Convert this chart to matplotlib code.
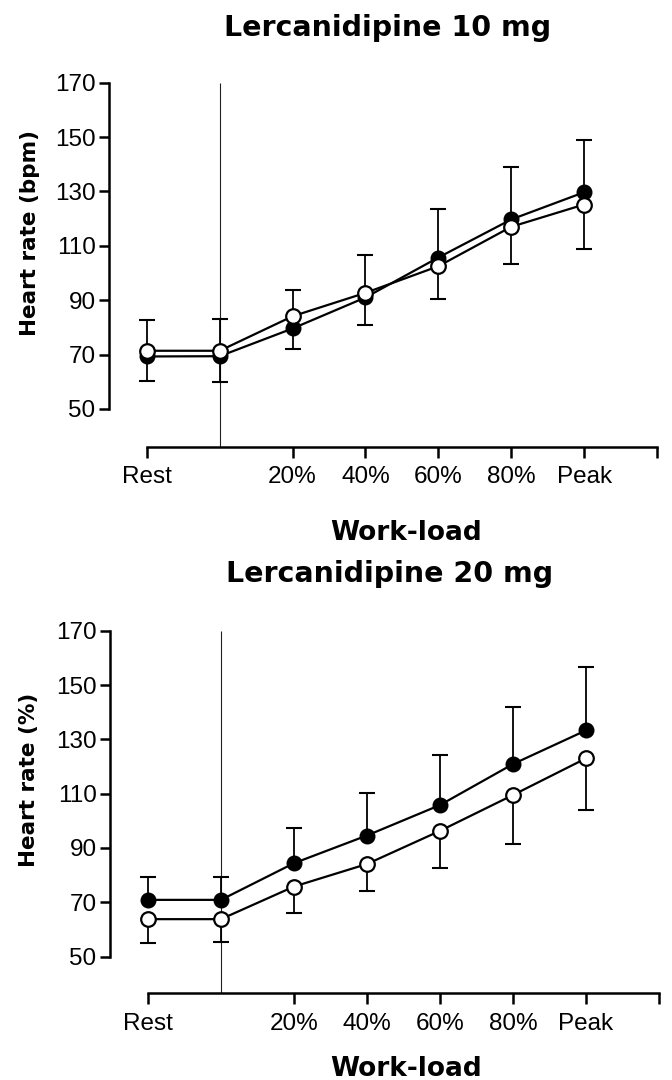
import numpy as np
import matplotlib
matplotlib.use("Agg")
import matplotlib.pyplot as plt

# ---------------- data ----------------
stages = ["Rest", "", "20%", "40%", "60%", "80%", "Peak"]

titles = ["Lercanidipine 10 mg", "Lercanidipine 20 mg"]
ylabels = ["Heart rate (bpm)", "Heart rate (%)"]
xlabel = "Work-load"
yticks = [50, 70, 90, 110, 130, 150, 170]

# 10 mg panel
hr10_filled = [69.3, 69.4, 79.6, 91.0, 105.7, 119.7, 129.7]
hr10_filled_sd = [13.4, 13.6, 14.1, 15.6, 17.8, 19.2, 19.1]
hr10_open = [71.4, 71.4, 84.1, 92.7, 102.5, 117.0, 125.2]
hr10_open_sd = [11.2, 11.4, 12.0, 11.9, 12.1, 13.6, 16.3]

# 20 mg panel
hr20_filled = [70.9, 70.9, 84.4, 94.6, 105.8, 120.9, 133.3]
hr20_filled_sd = [8.6, 8.6, 13.1, 15.8, 18.3, 21.0, 23.3]
hr20_open = [63.8, 63.8, 75.8, 84.1, 96.3, 109.5, 123.0]
hr20_open_sd = [8.6, 8.4, 9.8, 9.9, 13.8, 18.1, 19.0]

panels = [
    (hr10_filled, hr10_filled_sd, hr10_open, hr10_open_sd),
    (hr20_filled, hr20_filled_sd, hr20_open, hr20_open_sd),
]

# ---------------- layout ----------------
W, H = 672, 1080
fig = plt.figure(figsize=(W / 100, H / 100), dpi=100)

TICK_FONT = "Liberation Sans"
BOLD_FONT = "DejaVu Sans"

# axes rectangles in pixels: (left, right, top, bottom), and ylim bottom
rects = [
    (109, 660.6, 80.0, 447.0, 36.0),
    (110, 662.6, 628.0, 993.3, 36.5),
]
title_y = [1.121, 1.127]
xlabel_coords = [(0.538, -0.253), (0.535, -0.2265)]
ylabel_coords = [(-0.144, 0.584), (-0.146, 0.584)]

x = np.arange(len(stages))
x_end = len(stages)

for i, (filled, filled_sd, opn, opn_sd) in enumerate(panels):
    l, r, t, b, ylow = rects[i]
    ax = fig.add_axes([l / W, 1 - b / H, (r - l) / W, (b - t) / H])
    ax.set_xlim(-0.52, x_end + 0.05)
    ax.set_ylim(ylow, 171)

    filled = np.array(filled)
    opn = np.array(opn)
    filled_sd = np.array(filled_sd)
    opn_sd = np.array(opn_sd)

    # thin vertical divider at the unlabeled stage
    blank = [k for k, s in enumerate(stages) if s == ""][0]
    ax.vlines(blank, ylow, 170, color="#222222", lw=0.8, zorder=1, clip_on=False)

    # error bars: filled -> upward, open -> downward
    ax.vlines(x, filled, filled + filled_sd, color="black", lw=1.3, zorder=1.5)
    ax.plot(x, filled + filled_sd, ls="none", marker="_", ms=12, mew=1.5,
            color="black", zorder=1.5)
    ax.vlines(x, opn - opn_sd, opn, color="black", lw=1.3, zorder=1.5)
    ax.plot(x, opn - opn_sd, ls="none", marker="_", ms=12, mew=1.5,
            color="black", zorder=1.5)

    # lines
    ax.plot(x, filled, color="black", lw=1.6, zorder=2)
    ax.plot(x, opn, color="black", lw=1.6, zorder=2)
    # markers
    ax.plot(x, filled, ls="none", marker="o", ms=10, mfc="black", mec="black",
            mew=1.5, zorder=3, clip_on=False)
    ax.plot(x, opn, ls="none", marker="o", ms=10.5, mfc="white", mec="black",
            mew=1.6, zorder=4, clip_on=False)

    # spines
    for s in ["top", "right"]:
        ax.spines[s].set_visible(False)
    ax.spines["left"].set_bounds(50, 170)
    ax.spines["bottom"].set_bounds(0, x_end)
    for s in ["left", "bottom"]:
        ax.spines[s].set_linewidth(1.8)

    # ticks
    ax.set_yticks(yticks)
    ax.set_yticklabels([str(v) for v in yticks], fontfamily=TICK_FONT, fontsize=17.5)
    tick_pos = [k for k, s in enumerate(stages) if s != ""] + [x_end]
    tick_lab = [s for s in stages if s != ""] + [""]
    ax.set_xticks(tick_pos)
    ax.set_xticklabels(tick_lab, fontfamily=TICK_FONT, fontsize=17.5)
    ax.tick_params(axis="y", direction="out", length=7.2, width=1.8, pad=2.5)
    ax.tick_params(axis="x", direction="out", length=8, width=1.8, pad=6)

    # labels
    ax.set_ylabel(ylabels[i], fontfamily=BOLD_FONT, fontweight="bold", fontsize=15.5)
    ax.yaxis.label.set_va("center")
    ax.yaxis.set_label_coords(*ylabel_coords[i])

    ax.set_xlabel(xlabel, fontfamily=BOLD_FONT, fontweight="bold", fontsize=19)
    ax.xaxis.label.set_va("baseline")
    ax.xaxis.set_label_coords(*xlabel_coords[i])

    ax.set_title(titles[i], fontfamily=BOLD_FONT, fontweight="bold", fontsize=20.5,
                 x=0.505, y=title_y[i], pad=0, va="baseline")

fig.savefig("out.png", dpi=100, facecolor="white")
